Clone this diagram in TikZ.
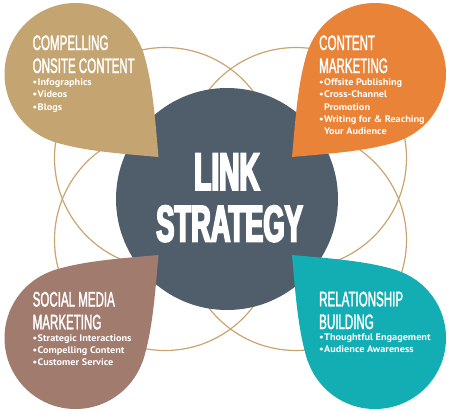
\documentclass[tikz,border=0pt]{standalone}
\usepackage{fontspec}
\setmainfont{PT Sans}
\newfontfamily\condfont[FakeStretch=0.55,FakeBold=1.5]{Liberation Sans}
\newfontfamily\hubfont[FakeStretch=0.53,FakeBold=3.5]{Liberation Sans}
\newfontfamily\bulfont[FakeStretch=1.08]{PT Sans}
\definecolor{goldC}{RGB}{201,166,112}
\definecolor{tanC}{RGB}{196,165,114}
\definecolor{orangeC}{RGB}{232,131,55}
\definecolor{brownC}{RGB}{161,123,110}
\definecolor{tealC}{RGB}{19,174,180}
\definecolor{hubC}{RGB}{80,93,107}
\newcommand\bul{\makebox[5pt][l]{•}}
\tikzset{
  pics/petal/.style={code={
    \fill[#1] (-83,-83) circle (71);
    \fill[#1] (0,0) .. controls (-3.2,-35) and (-6,-79.1) .. (-16.3,-107.3)
      -- (-83,-83) -- (-107.3,-16.3) .. controls (-79.1,-6) and (-35,-3.2) .. (0,0) -- cycle;
  }},
  title/.style={anchor=base west, inner sep=0pt, text=white,
    font=\condfont\fontsize{21}{21}\selectfont},
  item/.style={anchor=base west, inner sep=0pt, text=white,
    font=\bulfont\bfseries\fontsize{9.5}{9.5}\selectfont},
  big/.style={anchor=base, inner sep=0pt, text=white,
    font=\hubfont\bfseries\fontsize{53}{53}\selectfont},
  ring/.style={draw=goldC, line width=1.2pt},
}
\begin{document}
\begin{tikzpicture}[x=1pt,y=-1pt]
\fill[white] (0,0) rectangle (450,413);
\useasboundingbox (0,0) rectangle (450,413);
% gold rings
\draw[ring] (165,158) circle (110.5);
\draw[ring] (296,158) circle (110.5);
\draw[ring] (165,240) circle (110.5);
\draw[ring] (296,240) circle (110.5);
% hub
\node[circle, fill=hubC, minimum size=222pt, inner sep=0pt] (hub) at (227,199) {};
% petals
\pic at (158.5,157) {petal=tanC};
\pic[xscale=-1] at (292,157) {petal=orangeC};
\pic[yscale=-1] at (158.5,255) {petal=brownC};
\pic[xscale=-1,yscale=-1] at (292,255) {petal=tealC};
% center text
\node[big] (link) at (227,190) {LINK};
\node[big, font=\hubfont\bfseries\fontsize{51.5}{51.5}\selectfont] (strategy) at (229.5,241.5) {STRATEGY};
% top left
\node[title] (t1a) at (32.5,50) {COMPELLING};
\node[title] (t1b) at (32.5,73) {ONSITE CONTENT};
\node[item] (i1a) at (32.5,85.3) {\bul Infographics};
\node[item] (i1b) at (32.5,97.8) {\bul Videos};
\node[item] (i1c) at (32.5,110.3) {\bul Blogs};
% top right
\node[title] (t2a) at (319,50) {CONTENT};
\node[title] (t2b) at (319,73) {MARKETING};
\node[item] (i2a) at (319,85.3) {\bul Offsite Publishing};
\node[item] (i2b) at (319,97.8) {\bul Cross-Channel};
\node[item] (i2c) at (324,110.2) {Promotion};
\node[item] (i2d) at (319,122.5) {\bul Writing for \& Reaching};
\node[item] (i2e) at (324,134.8) {Your Audience};
% bottom left
\node[title] (t3a) at (32.5,306.5) {SOCIAL MEDIA};
\node[title] (t3b) at (32.5,329.3) {MARKETING};
\node[item] (i3a) at (32.5,341) {\bul Strategic Interactions};
\node[item] (i3b) at (32.5,353.3) {\bul Compelling Content};
\node[item] (i3c) at (32.5,365.5) {\bul Customer Service};
% bottom right
\node[title] (t4a) at (319,306.3) {RELATIONSHIP};
\node[title] (t4b) at (319,329) {BUILDING};
\node[item] (i4a) at (319,340.5) {\bul Thoughtful Engagement};
\node[item] (i4b) at (319,352.8) {\bul Audience Awareness};
\end{tikzpicture}
\end{document}
